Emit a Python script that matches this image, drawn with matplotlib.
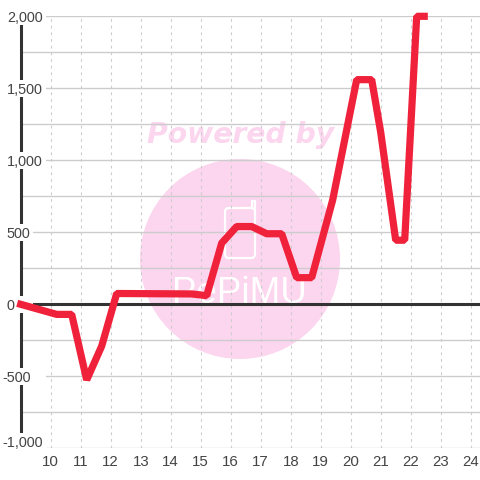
import matplotlib
matplotlib.use('Agg')
import matplotlib.pyplot as plt
from matplotlib.patches import Circle, FancyBboxPatch, Rectangle
from matplotlib.transforms import Affine2D

hours = [9.0, 10.2, 10.7, 11.2, 11.7, 12.2, 14.7, 15.2, 15.7, 16.2, 16.7, 17.2, 17.7, 18.2, 18.7,
         19.4, 20.2, 20.7, 21.0, 21.5, 21.8, 22.2, 22.45]
values = [0, -70, -70, -525, -290, 75, 72, 60, 425, 540, 540, 490, 490, 185, 185,
          725, 1560, 1560, 1195, 445, 445, 2000, 2000]

x_ticks = list(range(10, 25))
y_grid = list(range(-1000, 2001, 250))
y_labels = ['2,000', '1,500', '1,000', '500', '0', '-500', '-1,000']
y_label_vals = [2000, 1500, 1000, 500, 0, -500, -1000]

RED = '#f0213a'
DARK = '#333333'
GRID = '#cccccc'
PINK = '#fcd5ee'
TEXT = '#444444'

plt.rcParams['font.family'] = ['Liberation Sans', 'DejaVu Sans']

fig = plt.figure(figsize=(4.8, 4.8), dpi=100)
fig.patch.set_facecolor('white')

# watermark sits under the chart, drawn in pixel coordinates
bg = fig.add_axes([0, 0, 1, 1], zorder=0)
bg.set_xlim(0, 480)
bg.set_ylim(480, 0)
bg.axis('off')
bg.add_patch(Circle((240, 259), 100, color=PINK, lw=0))
bg.add_patch(FancyBboxPatch((225, 208), 30, 50, boxstyle='round,pad=0,rounding_size=4',
                            fc='none', ec='white', lw=1.6))
bg.plot([251.5, 251.5, 255, 255], [208, 201, 201, 210], color='white', lw=1.6)
bg.text(241, 143, 'Powered by', family='DejaVu Sans', weight='bold', style='oblique',
        fontsize=20.3, color=PINK, ha='center', va='baseline')
bg.text(239, 303, 'PePiMU', fontsize=26.5, color='white', ha='center', va='baseline')

left, right, top, bottom = 20.7, 480, 16.3, 448.3
ax = fig.add_axes([left / 480, 1 - bottom / 480, (right - left) / 480, (bottom - top) / 480], zorder=1)
ax.patch.set_visible(False)
ax.set_xlim(9, 9 + (right - left) / 30)
ax.set_ylim(-1000, 2000)

for s in ['top', 'right', 'bottom']:
    ax.spines[s].set_visible(False)
ax.spines['left'].set_color(DARK)
ax.spines['left'].set_linewidth(2.2)
ax.spines['left'].set_zorder(2.5)

ax.set_xticks(x_ticks)
ax.set_yticks(y_grid)
ax.set_yticklabels([])
ax.tick_params(axis='both', length=0)
ax.tick_params(axis='x', labelsize=10.8, labelcolor=TEXT, pad=5)
ax.grid(axis='x', color=GRID, lw=0.8, ls=(0, (2.5, 3.5)))
ax.grid(axis='y', color=GRID, lw=1, ls='-')
ax.set_axisbelow(True)
ax.axhline(0, color=DARK, lw=2.2, zorder=2.6, clip_on=False)

# y labels have a white box behind them that cuts the axis and gridlines
px = Affine2D().scale(1 / 480, -1 / 480).translate(0, 1) + fig.transFigure
for lab, val in zip(y_labels, y_label_vals):
    py = 304.3 - val * 0.144
    if val == -1000:
        py = 441.5
    lx = 2.2 if lab.startswith('-') else 6.8
    w = 46 if len(lab) > 3 else 33
    ax.add_patch(Rectangle((0, py - 8.5), w, 17, transform=px, fc='white', ec='none',
                           zorder=3, clip_on=False))
    ax.text(lx, py, lab, transform=px, fontsize=10.4, color=TEXT, ha='left', va='center_baseline',
            zorder=6, clip_on=False)

ax.plot(hours, values, color=RED, lw=5.2, solid_joinstyle='bevel', solid_capstyle='projecting',
        clip_on=False, zorder=5)

fig.savefig('out.png', dpi=100)
